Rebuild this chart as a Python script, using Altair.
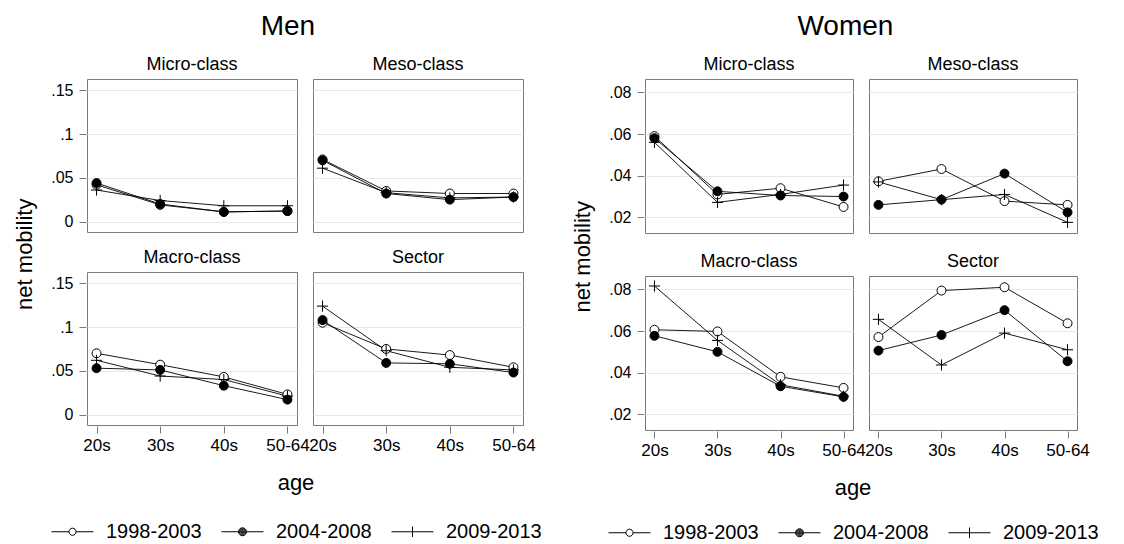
import altair as alt
import pandas as pd

ages = ["20s", "30s", "40s", "50-64"]
periods = ["1998-2003", "2004-2008", "2009-2013"]
panels = ["Micro-class", "Meso-class", "Macro-class", "Sector"]

# Men
men_micro_p1 = [0.042, 0.019, 0.011, 0.012]
men_micro_p2 = [0.044, 0.020, 0.011, 0.012]
men_micro_p3 = [0.036, 0.024, 0.018, 0.018]
men_meso_p1 = [0.071, 0.035, 0.032, 0.032]
men_meso_p2 = [0.070, 0.032, 0.025, 0.028]
men_meso_p3 = [0.061, 0.033, 0.027, 0.028]
men_macro_p1 = [0.070, 0.057, 0.043, 0.023]
men_macro_p2 = [0.053, 0.051, 0.033, 0.017]
men_macro_p3 = [0.062, 0.044, 0.040, 0.021]
men_sector_p1 = [0.105, 0.075, 0.068, 0.054]
men_sector_p2 = [0.108, 0.059, 0.058, 0.048]
men_sector_p3 = [0.124, 0.073, 0.054, 0.051]

# Women
women_micro_p1 = [0.059, 0.031, 0.034, 0.025]
women_micro_p2 = [0.058, 0.0325, 0.0305, 0.030]
women_micro_p3 = [0.056, 0.0272, 0.031, 0.0355]
women_meso_p1 = [0.0373, 0.0432, 0.0278, 0.026]
women_meso_p2 = [0.026, 0.0285, 0.041, 0.0224]
women_meso_p3 = [0.037, 0.0285, 0.031, 0.0176]
women_macro_p1 = [0.0606, 0.0598, 0.038, 0.0327]
women_macro_p2 = [0.0577, 0.050, 0.0335, 0.0284]
women_macro_p3 = [0.0816, 0.0555, 0.0342, 0.0287]
women_sector_p1 = [0.0571, 0.0794, 0.081, 0.0637]
women_sector_p2 = [0.0506, 0.0581, 0.070, 0.0455]
women_sector_p3 = [0.0656, 0.0437, 0.059, 0.051]

men_ticks = [0, 0.05, 0.1, 0.15]
women_ticks = [0.02, 0.04, 0.06, 0.08]

FONT = "Liberation Sans"


def build(series):
    rows = []
    for panel, per in series.items():
        for period, vals in zip(periods, per):
            for a, v in zip(ages, vals):
                rows.append({"panel": panel, "period": period, "age": a, "value": v})
    return pd.DataFrame(rows)


men_df = build({
    "Micro-class": [men_micro_p1, men_micro_p2, men_micro_p3],
    "Meso-class": [men_meso_p1, men_meso_p2, men_meso_p3],
    "Macro-class": [men_macro_p1, men_macro_p2, men_macro_p3],
    "Sector": [men_sector_p1, men_sector_p2, men_sector_p3],
})
women_df = build({
    "Micro-class": [women_micro_p1, women_micro_p2, women_micro_p3],
    "Meso-class": [women_meso_p1, women_meso_p2, women_meso_p3],
    "Macro-class": [women_macro_p1, women_macro_p2, women_macro_p3],
    "Sector": [women_sector_p1, women_sector_p2, women_sector_p3],
})


def ring(r):
    return "M%.3f,0A%.3f,%.3f,0,1,1,%.3f,0A%.3f,%.3f,0,1,1,%.3f,0" % (-r, r, r, r, r, r, -r)


PLUS = "M-1.25,0L1.25,0M0,-1.25L0,1.25"
LEG_OPEN = "M-1,0L-0.17,0M0.17,0L1,0" + ring(0.17)
LEG_FILL = "M-1,0L-0.19,0M0.19,0L1,0" + "".join(ring(r) for r in [0.19, 0.15, 0.11, 0.07, 0.035, 0.01])
LEG_PLUS = "M-1,0L1,0M0,-0.25L0,0.25"


def side(df, ticks, domain, w, h, title, rowsp, lx, ly, tpad, dx):
    yenc = alt.Y("value:Q", title=None,
                 scale=alt.Scale(domain=domain, nice=False, zero=False),
                 axis=alt.Axis(values=ticks, grid=True, gridColor="#e8e8e8", labelFontSize=16,
                               labelPadding=6,
                               labelExpr="replace(format(datum.value, '.2~f'), '0.', '.')"))
    xenc = alt.X("age:N", sort=ages, title=None,
                 scale=alt.Scale(type="point", padding=0.15),
                 axis=alt.Axis(labelAngle=0, grid=False))
    base = alt.Chart(df)
    line = base.mark_line(color="black", strokeWidth=0.9).encode(
        x=xenc, y=yenc, detail="period:N")
    p_open = base.transform_filter(alt.datum.period == periods[0]).mark_point(
        shape="circle", filled=True, fill="white", stroke="black", strokeWidth=1,
        opacity=1, size=80).encode(x=xenc, y=yenc)
    p_fill = base.transform_filter(alt.datum.period == periods[1]).mark_point(
        shape="circle", filled=True, fill="black", stroke="black", strokeWidth=1,
        opacity=1, size=80).encode(x=xenc, y=yenc)
    p_plus = base.transform_filter(alt.datum.period == periods[2]).mark_point(
        shape=PLUS, filled=False, stroke="black", strokeWidth=1,
        opacity=1, size=80).encode(x=xenc, y=yenc)
    key = base.transform_filter("false").mark_point(
        filled=False, stroke="black", strokeWidth=1, opacity=1).encode(
        x=xenc, y=yenc,
        shape=alt.Shape("period:N", sort=periods,
                        scale=alt.Scale(domain=periods, range=[LEG_OPEN, LEG_FILL, LEG_PLUS]),
                        legend=alt.Legend(
                            title="age", orient="none", legendX=lx, legendY=ly,
                            direction="horizontal",
                            titleOrient="top", titleAnchor="middle",
                            titleFontSize=22, titleFontWeight="normal", titleFont=FONT,
                            titleColor="black", titlePadding=tpad,
                            labelFontSize=20, labelFont=FONT, labelColor="black",
                            labelOffset=12, columnPadding=17, symbolSize=1764,
                            symbolStrokeWidth=1, symbolStrokeColor="black",
                            symbolFillColor="transparent")),
    )
    layered = alt.layer(line, p_open, p_fill, p_plus, key).properties(width=w, height=h)
    fac = layered.facet(
        facet=alt.Facet("panel:N", sort=panels, title=None,
                        header=alt.Header(labelFontSize=18, labelFont=FONT,
                                          labelColor="black", labelPadding=5)),
        columns=2,
        spacing={"column": 14, "row": rowsp},
    ).properties(title=alt.TitleParams("net mobility", orient="left", anchor="middle",
                                       fontSize=22, font=FONT, fontWeight="normal",
                                       color="black", offset=14))
    return alt.hconcat(fac).properties(
        title=alt.TitleParams(title, fontSize=28, font=FONT, fontWeight="normal",
                              color="black", anchor="middle", offset=15, dx=dx))


men = side(men_df, men_ticks, [-0.012, 0.163], 210, 153, "Men", 15, -36, 394, 15, 10)
women = side(women_df, women_ticks, [0.0125, 0.0864], 208, 154, "Women", 18, -37, 399, 11, 10)

chart = alt.hconcat(men, women, spacing=29).resolve_scale(
    x="independent", y="independent", shape="independent"
).resolve_legend(shape="independent").configure(
    font=FONT, padding={"left": 5, "top": 4, "right": 5, "bottom": 0}
).configure_view(stroke="#7a7a7a", strokeWidth=1).configure_axis(
    domain=False, tickColor="#7a7a7a", tickSize=7, labelFontSize=17, labelFont=FONT,
    labelColor="black", labelPadding=4
)

chart.save("out.html", embed_options={"renderer": "svg", "actions": False})
